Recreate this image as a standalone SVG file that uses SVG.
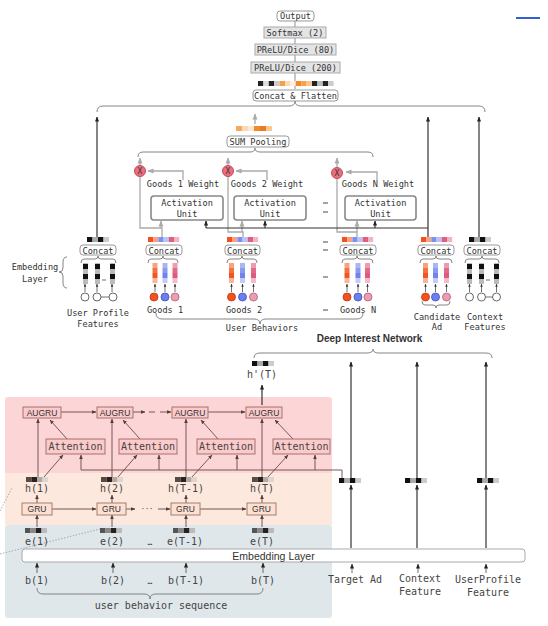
<svg xmlns="http://www.w3.org/2000/svg" width="548" height="626" viewBox="0 0 548 626">
<defs>
<style>
.m{font-family:"DejaVu Sans Mono","Liberation Mono",monospace;fill:#333}
.t{font-size:8.6px}
.b{font-size:10px;fill:#444}
.s{font-family:"Liberation Sans",Arial,sans-serif;fill:#333}
.c{text-anchor:middle}
.box{fill:#fff;stroke:#999;stroke-width:1}
.gbox{fill:#e4e4e4;stroke:#aaa;stroke-width:1}
.au{fill:#fff;stroke:#888;stroke-width:1.6}
.gl{fill:none;stroke:#aaa;stroke-width:1.3}
.dl{fill:none;stroke:#333;stroke-width:1.2}
.thin{fill:none;stroke:#333;stroke-width:0.7}
.bl{fill:none;stroke:#6a4848;stroke-width:0.9}
.aug{fill:#fbcaca;stroke:#a57070;stroke-width:1}
.gru{fill:#fde0d2;stroke:#a08070;stroke-width:1}
.br{fill:none;stroke:#777;stroke-width:0.9}
.xc{fill:#ea6f7e;stroke:#c84858;stroke-width:1}
</style>
<marker id="ag" markerUnits="userSpaceOnUse" markerWidth="6" markerHeight="6" viewBox="0 0 6 6" refX="5.5" refY="3" orient="auto"><path d="M0,0.5 L6,3 L0,5.5z" fill="#aaa"/></marker>
<marker id="ad" markerUnits="userSpaceOnUse" markerWidth="5" markerHeight="5" viewBox="0 0 6 6" refX="5.5" refY="3" orient="auto"><path d="M0,0.5 L6,3 L0,5.5z" fill="#222"/></marker>
<marker id="as" markerUnits="userSpaceOnUse" markerWidth="3" markerHeight="3" viewBox="0 0 6 6" refX="5.5" refY="3" orient="auto"><path d="M0,0.5 L6,3 L0,5.5z" fill="#333"/></marker>
<marker id="ab" markerUnits="userSpaceOnUse" markerWidth="4.5" markerHeight="4.5" viewBox="0 0 6 6" refX="5.5" refY="3" orient="auto"><path d="M0,0.5 L6,3 L0,5.5z" fill="#5a3c3c"/></marker>
<g id="vo"><rect width="5" height="5" fill="#f7a47c"/><rect y="5" width="5" height="5" fill="#f47344"/><rect y="10" width="5" height="5" fill="#f25524"/><rect y="15" width="5" height="5" fill="#f9b596"/></g>
<g id="vb"><rect width="5" height="5" fill="#aab5f5"/><rect y="5" width="5" height="5" fill="#8a99f2"/><rect y="10" width="5" height="5" fill="#6f82ee"/><rect y="15" width="5" height="5" fill="#c3cbf8"/></g>
<g id="vp"><rect width="5" height="5" fill="#ee9cb0"/><rect y="5" width="5" height="5" fill="#e56a88"/><rect y="10" width="5" height="5" fill="#df5a7c"/><rect y="15" width="5" height="5" fill="#f3bccb"/></g>
<g id="vk"><rect width="5" height="21" fill="#bbb"/><rect y="1" width="5" height="5" fill="#111"/><rect y="11" width="5" height="5" fill="#111"/></g>
<g id="cb"><rect width="5.2" height="5" fill="#f4511e"/><rect x="5.2" width="5.2" height="5" fill="#f9a07e"/><rect x="10.4" width="5.2" height="5" fill="#7e8ff2"/><rect x="15.6" width="5.2" height="5" fill="#b8c3f7"/><rect x="20.8" width="5.2" height="5" fill="#e25d80"/><rect x="26" width="5.2" height="5" fill="#f3b3c5"/></g>
<g id="kb"><rect width="5.5" height="5" fill="#111"/><rect x="5.5" width="5.5" height="5" fill="#aaa"/><rect x="11" width="5.5" height="5" fill="#111"/><rect x="16.5" width="5.5" height="5" fill="#ccc"/></g>
<g id="hb"><rect width="5.5" height="5" fill="#5a4a44"/><rect x="5.5" width="5.5" height="5" fill="#2a2222"/><rect x="11" width="5.5" height="5" fill="#b0a8a4"/><rect x="16.5" width="5.5" height="5" fill="#ddd5d0"/></g>
<g id="eb"><rect width="5.5" height="5" fill="#555"/><rect x="5.5" width="5.5" height="5" fill="#888"/><rect x="11" width="5.5" height="5" fill="#222"/><rect x="16.5" width="5.5" height="5" fill="#bbb"/></g>
<circle id="co" r="4" fill="#f4511e" stroke="#b83a12" stroke-width="0.8"/>
<circle id="cbl" r="4" fill="#6b7ff0" stroke="#4050c0" stroke-width="0.8"/>
<circle id="cp" r="4" fill="#ec9db2" stroke="#b06078" stroke-width="0.8"/>
<circle id="cw" r="4" fill="#fff" stroke="#444" stroke-width="0.8"/>
</defs>
<rect width="548" height="626" fill="#fff"/>
<line x1="516" y1="18" x2="540" y2="18" stroke="#2f62d0" stroke-width="2"/>

<!-- background regions -->
<g id="regions">
<rect x="5" y="397" width="327" height="78" rx="3" fill="#fcd6d6"/>
<rect x="5" y="473" width="327" height="52" fill="#fde8dd"/>
<rect x="5" y="525" width="327" height="93" rx="3" fill="#dfe7eb"/>
</g>

<!-- connectors -->
<g id="connectors">
<path class="gl" d="M295,89 V21"/>
<path class="gl" d="M255,124 V114" marker-end="url(#ag)"/>
<path class="gl" d="M140,165 V158" marker-end="url(#ag)"/>
<path class="gl" d="M228,165 V158" marker-end="url(#ag)"/>
<path class="gl" d="M337,167 V158" marker-end="url(#ag)"/>
<path class="gl" d="M183,180 V171 H148" marker-end="url(#ag)"/>
<path class="gl" d="M267,180 V171 H236" marker-end="url(#ag)"/>
<path class="gl" d="M377,180 V172 H346" marker-end="url(#ag)"/>
<path class="gl" d="M140,177 V228 H162 V237"/>
<path class="gl" d="M161,228 V221" marker-end="url(#ag)"/>
<path class="gl" d="M228,177 V232 H243 V237"/>
<path class="gl" d="M242,232 V221" marker-end="url(#ag)"/>
<path class="gl" d="M337,179 V232 H357 V237"/>
<path class="gl" d="M357,232 V221" marker-end="url(#ag)"/>
<path class="dl" d="M428,237 V117" marker-end="url(#ad)"/>
<path class="dl" d="M428,228 H206"/>
<path class="dl" d="M206,228 V221" marker-end="url(#ad)"/>
<path class="dl" d="M265,228 V221" marker-end="url(#ad)"/>
<path class="dl" d="M375,228 V221" marker-end="url(#ad)"/>
<path class="dl" d="M97,237 V117" marker-end="url(#ad)"/>
<path class="dl" d="M479,237 V117" marker-end="url(#ad)"/>
<!-- small circle-to-bar arrows -->
<g class="thin">
<path d="M85,292 V284" marker-end="url(#as)"/><path d="M97,292 V284" marker-end="url(#as)"/><path d="M112,292 V284" marker-end="url(#as)"/>
<path d="M155,292 V284" marker-end="url(#as)"/><path d="M165,292 V284" marker-end="url(#as)"/><path d="M175,292 V284" marker-end="url(#as)"/>
<path d="M231.5,292 V284" marker-end="url(#as)"/><path d="M242.5,292 V284" marker-end="url(#as)"/><path d="M253.5,292 V284" marker-end="url(#as)"/>
<path d="M347,292 V284" marker-end="url(#as)"/><path d="M358,292 V284" marker-end="url(#as)"/><path d="M367.5,292 V284" marker-end="url(#as)"/>
<path d="M425.5,292 V284" marker-end="url(#as)"/><path d="M435.5,292 V284" marker-end="url(#as)"/><path d="M446.5,292 V284" marker-end="url(#as)"/>
<path d="M469.5,292 V284" marker-end="url(#as)"/><path d="M481.5,292 V284" marker-end="url(#as)"/><path d="M496.5,292 V284" marker-end="url(#as)"/>
<path d="M101,297 H109"/><path d="M485.5,297 H492.5"/>
<path d="M102,280 H106"/><path d="M486,280 H490"/>
</g>
<!-- braces -->
<g class="br">
<path d="M97,112 Q97,106 103,106 H289 Q295,106 295,101 Q295,106 301,106 H479 Q485,106 485,112"/>
<path d="M138,157 Q138,152 143,152 H250 Q255,152 255,148 Q255,152 260,152 H368 Q373,152 373,157"/>
<path d="M148,263 Q148,259 151,259 H160 Q163,259 163,256 Q163,259 166,259 H175 Q178,259 178,263"/>
<path d="M227,263 Q227,259 230,259 H239 Q242,259 242,256 Q242,259 245,259 H254 Q257,259 257,263"/>
<path d="M342,263 Q342,259 345,259 H354 Q357,259 357,256 Q357,259 360,259 H370 Q373,259 373,263"/>
<path d="M81,263 Q81,259 84,259 H95 Q98,259 98,256 Q98,259 101,259 H113 Q116,259 116,263"/>
<path d="M420,263 Q420,259 423,259 H433 Q436,259 436,256 Q436,259 439,259 H449 Q452,259 452,263"/>
<path d="M465,263 Q465,259 468,259 H479 Q482,259 482,256 Q482,259 485,259 H496 Q499,259 499,263"/>
<path d="M422,301 Q422,305 425,305 H433 Q436,305 436,308 Q436,305 439,305 H447 Q450,305 450,301"/>
<path d="M156,313 Q156,319 162,319 H254 Q260,319 260,324 Q260,319 266,319 H357 Q363,319 363,313"/>
<path d="M67,257 Q63,257 63,262 V268 Q63,272 59,272 Q63,272 63,276 V283 Q63,288 67,288"/>
<path d="M254,358 Q254,353 260,353 H367 Q373,353 373,349 Q373,353 379,353 H486 Q492,353 492,358"/>
<path d="M37,588 Q37,594 43,594 H144 Q150,594 150,599 Q150,594 156,594 H257 Q263,594 263,588"/>
</g>
<!-- dashes -->
<g stroke="#333" stroke-width="0.9">
<path d="M323,203 H328 M323,212 H328 M323,242 H328 M323,250 H328 M323,277 H328 M323,310 H328"/>
</g>
<!-- bottom part -->
<path class="dl" d="M262,405 V385" marker-end="url(#ad)"/>
<path class="dl" d="M351,548 V485" marker-end="url(#ad)"/>
<path class="dl" d="M351,478 V362" marker-end="url(#ad)"/>
<path class="dl" d="M417,548 V485" marker-end="url(#ad)"/>
<path class="dl" d="M417,478 V362" marker-end="url(#ad)"/>
<path class="dl" d="M486,548 V485" marker-end="url(#ad)"/>
<path class="dl" d="M486,478 V362" marker-end="url(#ad)"/>
<path class="thin" d="M352,573 V564" marker-end="url(#ad)"/>
<path class="thin" d="M418,573 V564" marker-end="url(#ad)"/>
<path class="thin" d="M486,573 V564" marker-end="url(#ad)"/>
<g class="bl">
<path d="M342,478 V470 H81"/>
<path d="M81,470 V455" marker-end="url(#ab)"/>
<path d="M159,470 V455" marker-end="url(#ab)"/>
<path d="M237,470 V455" marker-end="url(#ab)"/>
<path d="M315,470 V455" marker-end="url(#ab)"/>
<path d="M38,477 V419" marker-end="url(#ab)"/>
<path d="M112,477 V419" marker-end="url(#ab)"/>
<path d="M186,477 V419" marker-end="url(#ab)"/>
<path d="M262,477 V419" marker-end="url(#ab)"/>
<path d="M44,477 L63,455" marker-end="url(#ab)"/>
<path d="M118,477 L137,455" marker-end="url(#ab)"/>
<path d="M192,477 L212,455" marker-end="url(#ab)"/>
<path d="M268,477 L288,455" marker-end="url(#ab)"/>
<path d="M67,439 L50,420" marker-end="url(#ab)"/>
<path d="M140,439 L123,420" marker-end="url(#ab)"/>
<path d="M218,439 L201,420" marker-end="url(#ab)"/>
<path d="M293,439 L275,420" marker-end="url(#ab)"/>
<path d="M61,412 H96" marker-end="url(#ab)"/>
<path d="M133,412 H145" marker-end="url(#ab)"/>
<path d="M149,412 H155"/>
<path d="M160,412 H171" marker-end="url(#ab)"/>
<path d="M208,412 H245" marker-end="url(#ab)"/>
<path d="M37,503 V495" marker-end="url(#ab)"/>
<path d="M112,503 V495" marker-end="url(#ab)"/>
<path d="M186,503 V495" marker-end="url(#ab)"/>
<path d="M262,503 V495" marker-end="url(#ab)"/>
<path d="M52,509 H96" marker-end="url(#ab)"/>
<path d="M126,509 H135" marker-end="url(#ab)"/>
<path d="M158,509 H170" marker-end="url(#ab)"/>
<path d="M200,509 H246" marker-end="url(#ab)"/>
<path d="M37,527 V515" marker-end="url(#ab)"/>
<path d="M112,527 V515" marker-end="url(#ab)"/>
<path d="M186,527 V515" marker-end="url(#ab)"/>
<path d="M262,527 V515" marker-end="url(#ab)"/>
</g>
<g class="thin">
<path d="M37,573 V563" marker-end="url(#ad)"/>
<path d="M113,573 V563" marker-end="url(#ad)"/>
<path d="M186,573 V563" marker-end="url(#ad)"/>
<path d="M263,573 V563" marker-end="url(#ad)"/>
</g>
<path d="M0,511 L12,488 M0,554 L100,529" stroke="#999" stroke-width="0.8" stroke-dasharray="1.5,1.5" fill="none"/>
</g>

<!-- top stack -->
<g id="output"><rect class="box" x="277" y="11" width="37" height="10" rx="3"/><text class="m t c" x="295.5" y="19">Output</text></g>
<g id="softmax"><rect class="gbox" x="264" y="27" width="62" height="11"/><text class="m t c" x="295" y="35.5">Softmax (2)</text></g>
<g id="prelu80"><rect class="gbox" x="255" y="44" width="81" height="11"/><text class="m t c" x="295.5" y="52.5">PReLU/Dice (80)</text></g>
<g id="prelu200"><rect class="gbox" x="251" y="62" width="89" height="11"/><text class="m t c" x="295.5" y="70.5">PReLU/Dice (200)</text></g>
<g id="flatten-bar">
<rect x="258" y="81" width="5.4" height="5" fill="#222"/><rect x="263.4" y="81" width="5.4" height="5" fill="#ddd"/><rect x="268.8" y="81" width="5.4" height="5" fill="#222"/><rect x="274.2" y="81" width="5.4" height="5" fill="#ccc"/><rect x="279.6" y="81" width="5.4" height="5" fill="#f5a04a"/><rect x="285" y="81" width="5.4" height="5" fill="#fcd9b5"/><rect x="290.4" y="81" width="5.4" height="5" fill="#fdeede"/><rect x="295.8" y="81" width="5.4" height="5" fill="#f08a30"/><rect x="301.2" y="81" width="5.4" height="5" fill="#f3a050"/><rect x="306.6" y="81" width="5.4" height="5" fill="#fbc58f"/><rect x="312" y="81" width="5.4" height="5" fill="#222"/><rect x="317.4" y="81" width="5.4" height="5" fill="#bbb"/><rect x="322.8" y="81" width="5.4" height="5" fill="#222"/><rect x="328.2" y="81" width="5.4" height="5" fill="#ccc"/>
</g>
<g id="concat-flatten"><rect class="box" x="253" y="90" width="85" height="11" rx="3"/><text class="m t c" x="295.5" y="98.5">Concat &amp; Flatten</text></g>

<g id="sum-pooling">
<rect x="236" y="126" width="6" height="5" fill="#f5a860"/><rect x="242" y="126" width="6" height="5" fill="#fcd7b4"/><rect x="248" y="126" width="6" height="5" fill="#fde6d2"/><rect x="254" y="126" width="6" height="5" fill="#f08a2e"/><rect x="260" y="126" width="6" height="5" fill="#ec7a1e"/><rect x="266" y="126" width="6" height="5" fill="#fbc890"/>
<rect class="box" x="227" y="136" width="62" height="11" rx="3"/><text class="m t c" x="258" y="144.5">SUM Pooling</text>
</g>

<g id="mul1"><circle class="xc" cx="140" cy="171" r="5.5"/><text class="m c" x="140" y="174" font-size="8">X</text></g>
<g id="mul2"><circle class="xc" cx="228" cy="171" r="5.5"/><text class="m c" x="228" y="174" font-size="8">X</text></g>
<g id="mul3"><circle class="xc" cx="337" cy="173" r="5.5"/><text class="m c" x="337" y="176" font-size="8">X</text></g>

<g id="au1"><text class="m t c" x="183" y="187">Goods 1 Weight</text><rect class="au" x="151" y="196" width="72" height="24" rx="3"/><text class="m t c" x="187" y="205.5">Activation</text><text class="m t c" x="187" y="216.5">Unit</text></g>
<g id="au2"><text class="m t c" x="267" y="187">Goods 2 Weight</text><rect class="au" x="234" y="196" width="72" height="24" rx="3"/><text class="m t c" x="270" y="205.5">Activation</text><text class="m t c" x="270" y="216.5">Unit</text></g>
<g id="au3"><text class="m t c" x="378" y="187">Goods N Weight</text><rect class="au" x="345" y="196" width="71" height="24" rx="3"/><text class="m t c" x="380.5" y="205.5">Activation</text><text class="m t c" x="380.5" y="216.5">Unit</text></g>

<g id="user-profile">
<use href="#kb" x="87" y="237"/>
<rect class="box" x="80" y="245" width="36" height="10" rx="3"/><text class="m t c" x="98" y="253.5">Concat</text>
<use href="#vk" x="83" y="263"/><use href="#vk" x="95" y="263"/><use href="#vk" x="110" y="263"/>
<use href="#cw" x="85" y="297"/><use href="#cw" x="97" y="297"/><use href="#cw" x="113" y="297"/>
<text class="m t c" x="35" y="270">Embedding</text><text class="m t c" x="35" y="282">Layer</text>
<text class="m t c" x="98" y="316">User Profile</text><text class="m t c" x="98" y="327">Features</text>
</g>

<g id="goods1">
<use href="#cb" x="148" y="237"/>
<rect class="box" x="146" y="245" width="36" height="10" rx="3"/><text class="m t c" x="164" y="253.5">Concat</text>
<use href="#vo" x="152.5" y="263"/><use href="#vb" x="162.5" y="263"/><use href="#vp" x="172.5" y="263"/>
<use href="#co" x="154" y="297"/><use href="#cbl" x="165" y="297"/><use href="#cp" x="175" y="297"/>
<text class="m t c" x="165" y="313">Goods 1</text>
</g>
<g id="goods2">
<use href="#cb" x="227" y="237"/>
<rect class="box" x="225" y="245" width="35" height="10" rx="3"/><text class="m t c" x="242.5" y="253.5">Concat</text>
<use href="#vo" x="229" y="263"/><use href="#vb" x="240" y="263"/><use href="#vp" x="251" y="263"/>
<use href="#co" x="231.5" y="297"/><use href="#cbl" x="242.5" y="297"/><use href="#cp" x="253.5" y="297"/>
<text class="m t c" x="244" y="313">Goods 2</text>
</g>
<g id="goodsN">
<use href="#cb" x="342" y="237"/>
<rect class="box" x="340" y="245" width="36" height="10" rx="3"/><text class="m t c" x="358" y="253.5">Concat</text>
<use href="#vo" x="344.5" y="263"/><use href="#vb" x="355.5" y="263"/><use href="#vp" x="365" y="263"/>
<use href="#co" x="347" y="297"/><use href="#cbl" x="358" y="297"/><use href="#cp" x="368" y="297"/>
<text class="m t c" x="358" y="313">Goods N</text>
</g>
<text class="m t c" x="262" y="331">User Behaviors</text>

<g id="candidate-ad">
<use href="#cb" x="421" y="237"/>
<rect class="box" x="418" y="245" width="36" height="10" rx="3"/><text class="m t c" x="436" y="253.5">Concat</text>
<use href="#vo" x="423" y="263"/><use href="#vb" x="433" y="263"/><use href="#vp" x="444" y="263"/>
<use href="#co" x="425.5" y="297"/><use href="#cbl" x="435.5" y="297"/><use href="#cp" x="446.5" y="297"/>
<text class="m t c" x="437" y="320">Candidate</text><text class="m t c" x="437" y="330">Ad</text>
</g>
<g id="context-features">
<use href="#kb" x="469" y="237"/>
<rect class="box" x="464" y="245" width="36" height="10" rx="3"/><text class="m t c" x="482" y="253.5">Concat</text>
<use href="#vk" x="467" y="263"/><use href="#vk" x="479" y="263"/><use href="#vk" x="494" y="263"/>
<use href="#cw" x="469.5" y="297"/><use href="#cw" x="481.5" y="297"/><use href="#cw" x="496.5" y="297"/>
<text class="m t c" x="485" y="320">Context</text><text class="m t c" x="485" y="330">Features</text>
</g>

<!-- bottom part -->
<g id="din-title"><text class="s c" x="369.5" y="342" font-size="10" font-weight="bold" fill="#111">Deep Interest Network</text></g>
<g id="hT-out"><use href="#kb" x="252" y="361"/><text class="m b c" x="262" y="378">h'(T)</text></g>

<g id="augru1"><rect class="aug" x="23" y="407" width="38" height="11"/><text class="s c" x="42" y="415.5" font-size="8.5">AUGRU</text></g>
<g id="augru2"><rect class="aug" x="97" y="407" width="36" height="11"/><text class="s c" x="115" y="415.5" font-size="8.5">AUGRU</text></g>
<g id="augru3"><rect class="aug" x="172" y="407" width="36" height="11"/><text class="s c" x="190" y="415.5" font-size="8.5">AUGRU</text></g>
<g id="augru4"><rect class="aug" x="246" y="407" width="36" height="11"/><text class="s c" x="264" y="415.5" font-size="8.5">AUGRU</text></g>

<g id="att1"><rect class="aug" x="46" y="439" width="59" height="15"/><text class="m b c" x="75.5" y="450">Attention</text></g>
<g id="att2"><rect class="aug" x="119" y="439" width="58" height="15"/><text class="m b c" x="148" y="450">Attention</text></g>
<g id="att3"><rect class="aug" x="197" y="439" width="58" height="15"/><text class="m b c" x="226" y="450">Attention</text></g>
<g id="att4"><rect class="aug" x="273" y="439" width="57" height="15"/><text class="m b c" x="301.5" y="450">Attention</text></g>

<g id="h1"><use href="#hb" x="26" y="477"/><text class="m b c" x="37" y="492">h(1)</text></g>
<g id="h2"><use href="#hb" x="101" y="477"/><text class="m b c" x="112" y="492">h(2)</text></g>
<g id="hT1"><use href="#hb" x="175" y="477"/><text class="m b c" x="186" y="492">h(T-1)</text></g>
<g id="hT"><use href="#hb" x="252" y="477"/><text class="m b c" x="262" y="492">h(T)</text></g>

<g id="gru1"><rect class="gru" x="22" y="503" width="30" height="12"/><text class="s c" x="37" y="512" font-size="8.5">GRU</text></g>
<g id="gru2"><rect class="gru" x="97" y="503" width="29" height="12"/><text class="s c" x="111.5" y="512" font-size="8.5">GRU</text></g>
<g id="gru3"><rect class="gru" x="171" y="503" width="29" height="12"/><text class="s c" x="185.5" y="512" font-size="8.5">GRU</text></g>
<g id="gru4"><rect class="gru" x="247" y="503" width="29" height="12"/><text class="s c" x="261.5" y="512" font-size="8.5">GRU</text></g>
<text class="m c" x="147" y="511" font-size="7" fill="#777">···</text>

<g id="e1"><use href="#eb" x="25" y="528"/><text class="m b c" x="37" y="545">e(1)</text></g>
<g id="e2"><use href="#eb" x="100" y="528"/><text class="m b c" x="112" y="545">e(2)</text></g>
<text class="m c" x="150" y="545" font-size="8" fill="#666">…</text>
<g id="eT1"><use href="#eb" x="173" y="528"/><text class="m b c" x="185" y="545">e(T-1)</text></g>
<g id="eT"><use href="#eb" x="252" y="528"/><text class="m b c" x="262" y="545">e(T)</text></g>

<g id="embedding-layer"><rect x="22" y="549" width="503" height="13" rx="3" fill="#fff" stroke="#aaa" stroke-width="1"/><text class="s c" x="273.5" y="559.5" font-size="10.5" fill="#222">Embedding Layer</text></g>

<g id="b-seq">
<text class="m b c" x="37" y="584">b(1)</text><text class="m b c" x="113" y="584">b(2)</text>
<text class="m c" x="150" y="584" font-size="8" fill="#666">…</text>
<text class="m b c" x="186" y="584">b(T-1)</text><text class="m b c" x="263" y="584">b(T)</text>
<text class="m b c" x="161" y="609">user behavior sequence</text>
</g>

<g id="target-ad"><use href="#kb" x="339" y="478"/><text class="m b c" x="355" y="583">Target Ad</text></g>
<g id="context-feature"><use href="#kb" x="405" y="478"/><text class="m b c" x="420" y="582">Context</text><text class="m b c" x="420" y="595">Feature</text></g>
<g id="userprofile-feature"><use href="#kb" x="477" y="478"/><text class="m b c" x="488" y="583">UserProfile</text><text class="m b c" x="488" y="596">Feature</text></g>
</svg>
